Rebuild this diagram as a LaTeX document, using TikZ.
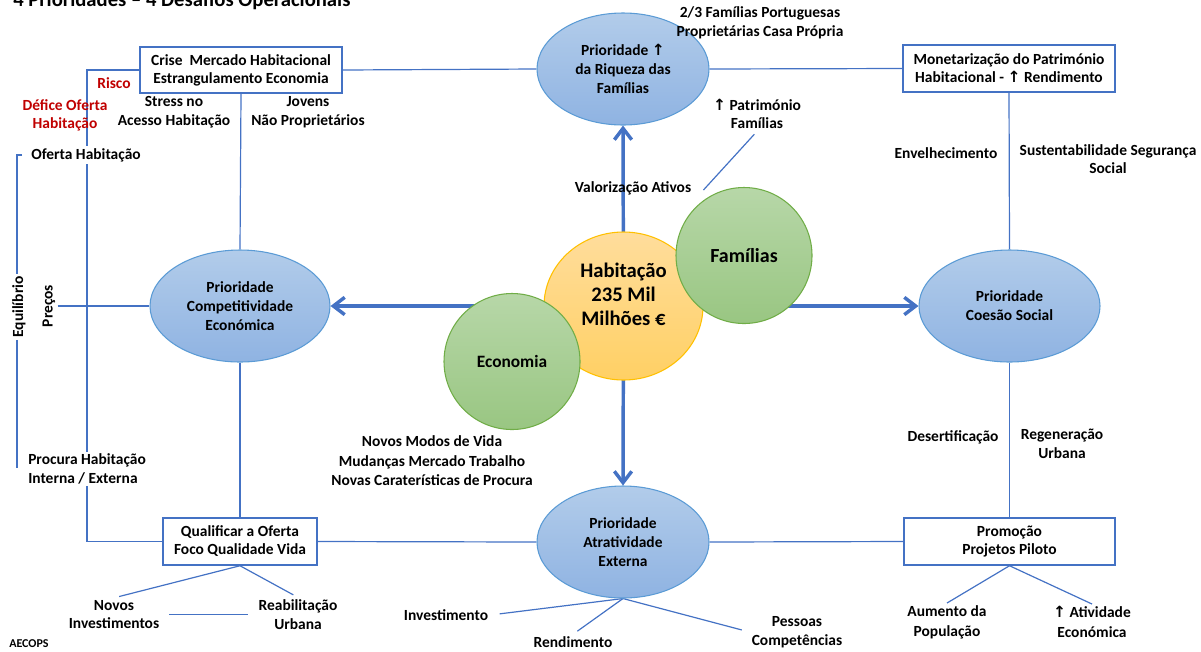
\documentclass[tikz,border=0pt]{standalone}
\usepackage{fontspec}
\setmainfont{Carlito}
\newfontfamily\arrowfont{DejaVu Sans}
\newcommand\upmark{{\arrowfont\bfseries\char"2191}}
\usetikzlibrary{arrows.meta,backgrounds,shapes.geometric}

\definecolor{linkblue}{HTML}{4472C4}
\definecolor{ellborder}{HTML}{5B9BD5}
\definecolor{elltop}{HTML}{B2CCEA}
\definecolor{ellbot}{HTML}{8FB3E2}
\definecolor{greenedge}{HTML}{70AD47}
\definecolor{greentop}{HTML}{B7D7A8}
\definecolor{greenbot}{HTML}{99C682}
\definecolor{goldedge}{HTML}{FFC000}
\definecolor{goldtop}{HTML}{FFDD9C}
\definecolor{goldbot}{HTML}{FFD064}
\definecolor{riskred}{HTML}{C00000}

\begin{document}
\begin{tikzpicture}[x=0.75pt,y=-0.75pt,
  font=\bfseries\fontsize{11.6}{14}\selectfont,
  prio/.style={ellipse, draw=ellborder, line width=0.8pt, top color=elltop,
    bottom color=ellbot, align=center, inner sep=0pt,
    font=\bfseries\fontsize{11.6}{14.25}\selectfont},
  theme/.style={circle, draw=greenedge, line width=0.8pt, top color=greentop,
    bottom color=greenbot, inner sep=0pt, minimum size=102pt},
  panel/.style={rectangle, draw=linkblue, line width=1.1pt, fill=white,
    align=center, inner sep=0pt, font=\bfseries\fontsize{11.6}{13.5}\selectfont},
  note/.style={align=center, inner sep=1.5pt},
  risk/.style={note, text=riskred},
  thin/.style={draw=linkblue, line width=0.9pt},
  flow/.style={draw=linkblue, line width=2.6pt,
    -{Straight Barb[length=8.5pt,width=13pt]}}
]
\useasboundingbox (0,0) rectangle (1201,651);

% title
\node[anchor=base west, inner sep=0pt, font=\bfseries\fontsize{15.5}{18}\selectfont]
  (title) at (13,6) {4 Prioridades – 4 Desafios Operacionais};

% four priorities
\node[prio, minimum width=129pt, minimum height=84pt] (riq) at (623,69)
  {Prioridade \upmark\\da Riqueza das\\Famílias};
\node[prio, minimum width=129pt, minimum height=84pt] (atr) at (623,542)
  {Prioridade\\Atratividade\\Externa};
\node[prio, minimum width=135pt, minimum height=84pt] (compet) at (240,306)
  {Prioridade\\Competitividade\\Económica};
\node[prio, minimum width=135.75pt, minimum height=84pt] (coesao) at (1009.5,306)
  {Prioridade\\Coesão Social};

% operational challenges
\node[panel, minimum width=151.5pt, minimum height=34.5pt] (crise) at (241,70)
  {Crise\ \ Mercado Habitacional\\Estrangulamento Economia};
\node[panel, minimum width=159pt, minimum height=35.25pt] (monet) at (1009,68.5)
  {Monetarização do Património\\Habitacional - \upmark\ Rendimento};
\node[panel, minimum width=115.5pt, minimum height=35.25pt] (qual) at (240,541.5)
  {Qualificar a Oferta\\Foco Qualidade Vida};
\node[panel, minimum width=158.25pt, minimum height=35.25pt] (promo) at (1009.5,541.5)
  {Promoção\\Projetos Piloto};

% centre: housing stock with its two themes
\node[ellipse, draw=goldedge, line width=0.8pt, top color=goldtop, bottom color=goldbot,
  minimum width=119.25pt, minimum height=111pt, inner sep=0pt] (hab) at (623.5,306) {};
\node[align=center, inner sep=0pt, font=\bfseries\fontsize{15.5}{18}\selectfont]
  (habtext) at (623.5,294) {Habitação\\235 Mil\\Milhões €};
\node[theme, font=\bfseries\fontsize{13}{15}\selectfont] (eco) at (512,361.5) {Economia};
\node[theme, font=\bfseries\fontsize{15}{17}\selectfont] (fam) at (744,255.5) {Famílias};

% labels
\node[risk] (risco) at (114,83) {Risco};
\node[risk] (defice) at (65,115.5) {Défice Oferta\\Habitação};
\node[note, font=\bfseries\fontsize{11.6}{14.6}\selectfont] (stress) at (174,112)
  {Stress no\\Acesso Habitação};
\node[note, font=\bfseries\fontsize{11.6}{14.6}\selectfont] (jovens) at (308,112)
  {Jovens\\Não Proprietários};
\node[note, fill=white] (oferta) at (86,155) {Oferta Habitação};
\node[note, fill=white, rotate=90] (equil) at (19,307) {Equilíbrio};
\node[note, rotate=90] (precos) at (49,306) {Preços};
\node[note, fill=white, align=left, anchor=west] (procura) at (26,469)
  {Procura Habitação\\Interna / Externa};
\node[note, font=\bfseries\fontsize{11.6}{14.6}\selectfont] (modos) at (432,461)
  {Novos Modos de Vida\\Mudanças Mercado Trabalho\\Novas Caraterísticas de Procura};
\node[note] (dois) at (760,22.5) {2/3 Famílias Portuguesas\\Proprietárias Casa Própria};
\node[note] (patr) at (757,114) {\upmark\ Património\\Famílias};
\node[note] (valor) at (633,188) {Valorização Ativos};
\node[note] (envel) at (946,153) {Envelhecimento};
\node[note] (sust) at (1108,159) {Sustentabilidade Segurança\\Social};
\node[note] (desert) at (953,437) {Desertificação};
\node[note] (regen) at (1062,444) {Regeneração\\Urbana};
\node[note, font=\bfseries\fontsize{11.6}{15}\selectfont] (aum) at (947,622)
  {Aumento da\\População};
\node[note, font=\bfseries\fontsize{11.6}{15}\selectfont] (ativ) at (1092,622)
  {\upmark\ Atividade\\Económica};
\node[note] (invest) at (446,615) {Investimento};
\node[note] (rend) at (573,642) {Rendimento};
\node[note] (pess) at (797,632) {Pessoas\\Competências};
\node[note] (novos) at (114,614.5) {Novos\\Investimentos};
\node[note] (reab) at (298,614.5) {Reabilitação\\Urbana};
\node[anchor=west, inner sep=0pt, font=\bfseries\fontsize{9}{11}\selectfont]
  (aecops) at (9,644) {AECOPS};

% bend points of the side links
\coordinate (lt) at (87,70);
\coordinate (bt) at (22,155);
\coordinate (bb) at (17,468);

\begin{scope}[on background layer]
  % frame of links between challenges and priorities
  \draw[thin] (crise.east) -- (riq.west);
  \draw[thin] (riq.east) -- (monet.west);
  \draw[thin] (crise.south) -- (compet.north);
  \draw[thin] (compet.south) -- (qual.north);
  \draw[thin] (qual.east) -- (atr.west);
  \draw[thin] (atr.east) -- (promo.west);
  \draw[thin] (monet.south) -- (coesao.north);
  \draw[thin] (coesao.south) -- (promo.north);
  \draw[thin] (crise.west) -- (crise.west -| lt) -- (lt |- qual.west) -- (qual.west);
  \draw[thin] (bt) -- (bb |- bt) -- (bb);
  \draw[thin] (precos.south) -- (compet.west);
  \draw[thin, shorten <=3pt] (patr.south) -- ([shift={(10,2)}]valor.east);
  % fans below the bottom row
  \draw[thin, shorten >=4pt] (qual.south) -- (novos.north);
  \draw[thin, shorten >=4pt] (qual.south) -- (reab.north);
  \draw[thin, shorten <=6pt, shorten >=6pt] (novos.east) -- (reab.west);
  \draw[thin, shorten >=7pt] (atr.south) -- (invest.east);
  \draw[thin, shorten >=4pt] (atr.south) -- (rend.north);
  \draw[thin, shorten >=6pt] (atr.south) -- (pess.west);
  \draw[thin] (promo.south) -- (aum.north);
  \draw[thin] (promo.south) -- (ativ.north);
  % main arrows from the centre
  \draw[flow] (hab.center) -- (riq.south);
  \draw[flow] (hab.center) -- (atr.north);
  \draw[flow] (hab.center) -- (compet.east);
  \draw[flow] (hab.center) -- (coesao.west);
\end{scope}
\end{tikzpicture}
\end{document}
